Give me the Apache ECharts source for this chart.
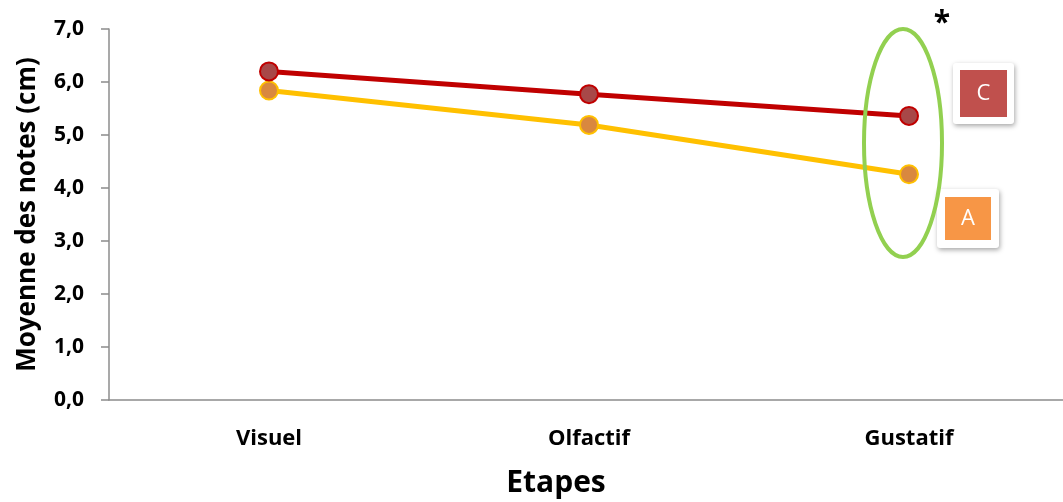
<!DOCTYPE html>
<html>
<head>
<meta charset="utf-8">
<script src="https://cdn.jsdelivr.net/npm/echarts@6/dist/echarts.min.js"></script>
<style>
  html, body { margin: 0; padding: 0; background: #ffffff; }
  #chart { width: 1063px; height: 502px; }
</style>
</head>
<body>
<div id="chart"></div>
<script>
// Stages of the tasting session
var categories = ['Visuel', 'Olfactif', 'Gustatif'];
// Mean scores (cm) per group
var seriesC = [6.2, 5.77, 5.36];
var seriesA = [5.84, 5.19, 4.26];
// Y axis range and step
var yMin = 0;
var yMax = 7;
var yStep = 1;

var FONT = '"Open Sans", "DejaVu Sans", sans-serif';

var chart = echarts.init(document.getElementById('chart'));

function tag(x, y, w, h, inner, fill, letter) {
  return {
    type: 'group',
    x: x, y: y,
    children: [
      {
        type: 'rect',
        shape: { x: 0, y: 0, width: w, height: h, r: 3 },
        style: { fill: '#ffffff', shadowBlur: 5, shadowOffsetX: 1, shadowOffsetY: 2, shadowColor: 'rgba(0,0,0,0.35)' }
      },
      {
        type: 'rect',
        shape: { x: inner, y: inner, width: w - 2 * inner, height: h - 2 * inner },
        style: { fill: fill }
      },
      {
        type: 'text',
        x: w / 2, y: h / 2,
        style: { text: letter, fill: '#ffffff', font: '22px ' + FONT, textAlign: 'center', textVerticalAlign: 'middle' }
      }
    ]
  };
}

chart.setOption({
  animation: false,
  backgroundColor: '#ffffff',
  // plot area runs slightly past the right edge of the canvas
  grid: { left: 109, width: 960, top: 29, height: 371, containLabel: false, outerBoundsMode: 'none' },
  xAxis: {
    type: 'category',
    data: categories,
    boundaryGap: true,
    axisLine: { show: true, lineStyle: { color: '#8c8c8c', width: 1.5 } },
    axisTick: { show: false },
    axisLabel: { margin: 28, color: '#000', fontFamily: FONT, fontWeight: 'bold', fontSize: 22 },
    name: 'Etapes',
    nameLocation: 'middle',
    nameGap: 68,
    nameTextStyle: { color: '#000', fontFamily: FONT, fontWeight: 'bold', fontSize: 30, padding: [0, 66, 0, 0] }
  },
  yAxis: {
    type: 'value',
    min: yMin, max: yMax, interval: yStep,
    splitLine: { show: false },
    axisLine: { show: true, lineStyle: { color: '#8c8c8c', width: 1.5 } },
    axisTick: { show: true, inside: false, length: 8, lineStyle: { color: '#8c8c8c', width: 1.5 } },
    axisLabel: {
      margin: 25, color: '#000', fontFamily: FONT, fontWeight: 'bold', fontSize: 21,
      formatter: function (v) { return v.toFixed(1).replace('.', ','); }
    },
    name: 'Moyenne des notes (cm)',
    nameLocation: 'middle',
    nameGap: 68,
    nameRotate: 90,
    nameTextStyle: { color: '#000', fontFamily: FONT, fontWeight: 'bold', fontSize: 26 }
  },
  series: [
    {
      name: 'A',
      type: 'line',
      data: seriesA,
      symbol: 'circle',
      symbolSize: 18,
      lineStyle: { color: '#FFC000', width: 5 },
      itemStyle: { color: '#D9883F', borderColor: '#FFC000', borderWidth: 2 },
      z: 2
    },
    {
      name: 'C',
      type: 'line',
      data: seriesC,
      symbol: 'circle',
      symbolSize: 18,
      lineStyle: { color: '#C00000', width: 5 },
      itemStyle: { color: '#A84848', borderColor: '#C00000', borderWidth: 2 },
      z: 3
    }
  ],
  graphic: [
    {
      type: 'ellipse',
      shape: { cx: 903, cy: 143, rx: 39, ry: 114 },
      style: { fill: 'none', stroke: '#92D050', lineWidth: 4 },
      z: 10
    },
    {
      type: 'text',
      x: 942, y: 23,
      style: { text: '*', fill: '#000', font: 'bold 30px ' + FONT, textAlign: 'center', textVerticalAlign: 'middle' },
      z: 10
    },
    tag(953, 63, 61, 61, 7, '#C0504D', 'C'),
    tag(937, 189, 62, 59, 8, '#F79646', 'A')
  ]
});
</script>
</body>
</html>
